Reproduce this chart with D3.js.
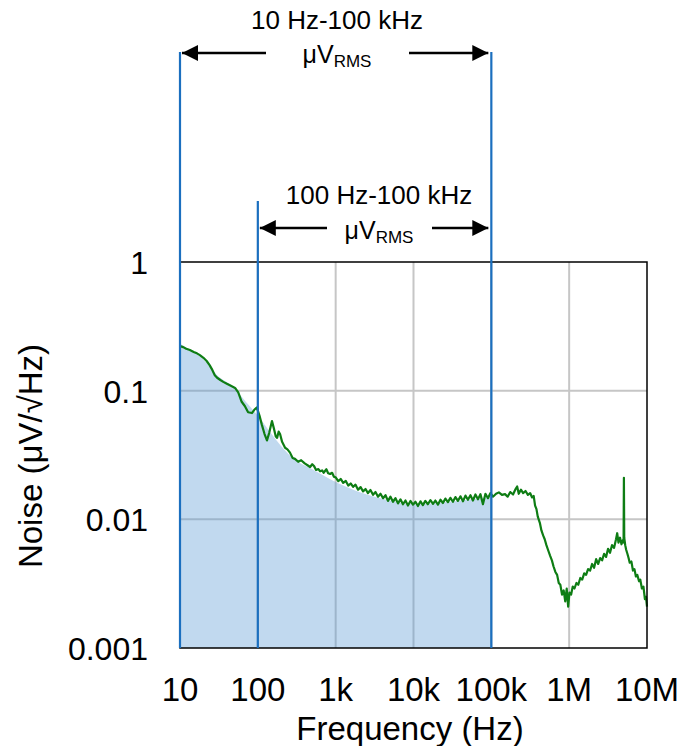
<!DOCTYPE html>
<html>
<head>
<meta charset="utf-8">
<script src="https://cdn.jsdelivr.net/npm/d3@7"></script>
<style>
  html, body { margin: 0; padding: 0; background: #fff; }
  svg { display: block; font-family: "Liberation Sans", Arial, sans-serif; }
</style>
</head>
<body>
<svg id="chart" width="683" height="746"></svg>
<script>
// ---------- data ----------
const xTickValues = [10, 100, 1e3, 1e4, 1e5, 1e6, 1e7];
const xTickLabels = ["10", "100", "1k", "10k", "100k", "1M", "10M"];
const yTickValues = [0.001, 0.01, 0.1, 1];
const yTickLabels = ["0.001", "0.01", "0.1", "1"];

const freq = [10, 11, 12, 13.4, 15, 16.5, 18, 20, 22, 24, 26, 28, 30, 33, 36, 40, 45, 51, 56, 62, 68, 75, 84, 90, 97,
  105, 113, 122, 131, 140, 152, 162, 170, 177, 185, 193, 205, 224, 240, 259, 280,
  300, 330, 360, 400, 440, 469, 500, 530, 560, 600, 631, 670, 700, 760, 800, 848, 900, 950,
  1000, 1080, 1160, 1250, 1350, 1450, 1560, 1680, 1800, 1940, 2090, 2250, 2420, 2600, 2800, 3020, 3250, 3500, 3770,
  4060, 4370, 4700, 5060, 5450, 5870, 6320, 6800, 7320, 7880, 8490, 9140, 9840,
  10600, 11400, 12300, 13200, 14200, 15300, 16500, 17800, 19100, 20600, 22200, 23900, 25700, 27700, 29800, 32100,
  34600, 37200, 40100, 43200, 46500, 50000, 53900, 58000, 62500, 67300, 72400, 78000, 84000, 90500, 97400,
  105000, 115000, 125000, 137000, 150000, 162000, 175000, 190000, 205000, 214600, 225000, 240000, 256000, 275000,
  295000, 315000, 334000, 350000, 365000, 380000, 395000, 420000, 440000, 463000, 485000, 510000, 540000, 570000,
  600000, 630000, 665000, 700000, 735000, 770000, 810000, 850000, 890000, 930000, 971000,
  1010000, 1060000, 1110000, 1170000, 1240000, 1310000, 1390000, 1470000, 1560000, 1650000, 1750000, 1860000,
  1970000, 2090000, 2220000, 2360000, 2500000, 2650000, 2810000, 2980000, 3160000, 3350000, 3550000, 3770000,
  4000000, 4140000, 4300000, 4500000, 4700000, 4900000, 5000000, 5050000, 5100000, 5250000, 5400000, 5600000,
  5800000, 6000000, 6300000, 6600000, 6900000, 7200000, 7500000, 7900000, 8200000, 8600000, 9000000, 9400000,
  9700000, 10000000];
const noise = [0.222, 0.218, 0.212, 0.207, 0.200, 0.195, 0.189, 0.180, 0.170, 0.158, 0.145, 0.132, 0.126, 0.121, 0.117,
  0.113, 0.109, 0.105, 0.097, 0.082, 0.076, 0.068, 0.067, 0.071, 0.074,
  0.064, 0.054, 0.046, 0.041, 0.047, 0.058, 0.050, 0.044, 0.043, 0.048, 0.046, 0.040, 0.036, 0.035, 0.033, 0.030,
  0.0295, 0.0280, 0.0288, 0.0272, 0.0262, 0.0255, 0.0268, 0.0258, 0.0242, 0.0246, 0.0236, 0.0240, 0.0230, 0.0245,
  0.0228, 0.0225, 0.0230, 0.0214,
  0.0212, 0.0198, 0.0206, 0.0192, 0.0199, 0.0183, 0.0190, 0.0179, 0.0186, 0.0170, 0.0178, 0.0165, 0.0172, 0.0160,
  0.0169, 0.0155, 0.0163, 0.0150, 0.0158,
  0.0146, 0.0154, 0.0139, 0.0150, 0.0137, 0.0146, 0.0133, 0.0143, 0.0131, 0.0140, 0.0128, 0.0139, 0.0130,
  0.0137, 0.0127, 0.0138, 0.0129, 0.0139, 0.0131, 0.0141, 0.0132, 0.0140, 0.0130, 0.0142, 0.0134, 0.0145, 0.0136,
  0.0147, 0.0137,
  0.0149, 0.0139, 0.0151, 0.0138, 0.0153, 0.0142, 0.0154, 0.0140, 0.0156, 0.0143, 0.0157, 0.0131, 0.0158, 0.0146,
  0.0160,
  0.0150, 0.0158, 0.0162, 0.0155, 0.0157, 0.0150, 0.0163, 0.0156, 0.0172, 0.0180, 0.0158, 0.0170, 0.0160, 0.0166,
  0.0155, 0.0160, 0.0148, 0.0152, 0.0128, 0.0120, 0.0105, 0.0094, 0.0082, 0.0075, 0.0070, 0.0063, 0.0057, 0.0052,
  0.0048, 0.0043, 0.0039, 0.0037, 0.0032, 0.0031, 0.0026, 0.0028, 0.0023, 0.0029, 0.0021,
  0.0027, 0.0026, 0.0030, 0.0029, 0.0032, 0.0031, 0.0035, 0.0034, 0.0038, 0.0037, 0.0041, 0.0040,
  0.0045, 0.0042, 0.0049, 0.0045, 0.0050, 0.0048, 0.0054, 0.0051, 0.0059, 0.0055, 0.0063, 0.0060,
  0.0070, 0.0078, 0.0066, 0.0072, 0.0064, 0.0069, 0.0066, 0.0210, 0.0072, 0.0063, 0.0058, 0.0054,
  0.0050, 0.0046, 0.0047, 0.0040, 0.0041, 0.0036, 0.0037, 0.0033, 0.0034, 0.0029, 0.0030, 0.0024,
  0.0025, 0.0021];

// integrated band (shaded) – smooth envelope of the noise density
const fillFreq = [10, 15, 20, 30, 50, 70, 100, 150, 200, 300, 500, 1000, 2000, 5000, 10000, 20000, 50000, 100000];
const fillNoise = [0.232, 0.200, 0.175, 0.132, 0.105, 0.082, 0.064, 0.046, 0.037, 0.029, 0.0245, 0.0195, 0.0163,
  0.0140, 0.0131, 0.0134, 0.0142, 0.0150];

// annotation bands
const bandStarts = [10, 100];
const bandEnd = 1e5;
const bandTitles = ["10 Hz-100 kHz", "100 Hz-100 kHz"];

// ---------- layout ----------
const svg = d3.select("#chart");
const x = d3.scaleLog().domain([10, 1e7]).range([180, 647]);
const y = d3.scaleLog().domain([0.001, 1]).range([648, 262]);

const green = "#0e7d14";
const blue = "#1b6fbf";

// grid
const grid = svg.append("g");
grid.selectAll("line.v").data(xTickValues.slice(1, -1)).join("line")
  .attr("x1", d => x(d)).attr("x2", d => x(d))
  .attr("y1", y(1)).attr("y2", y(0.001))
  .attr("stroke", "#c6c6c6").attr("stroke-width", 2);
grid.selectAll("line.h").data(yTickValues.slice(1, -1)).join("line")
  .attr("x1", x(10)).attr("x2", x(1e7))
  .attr("y1", d => y(d)).attr("y2", d => y(d))
  .attr("stroke", "#c6c6c6").attr("stroke-width", 2);

// shaded area
const fillData = fillFreq.map((f, i) => [f, fillNoise[i]]);
svg.append("path")
  .datum(fillData)
  .attr("d", d3.area().x(d => x(d[0])).y0(y(0.001)).y1(d => y(d[1])).curve(d3.curveMonotoneX))
  .attr("fill", "rgb(91,155,213)")
  .attr("fill-opacity", 0.38);

// noise line
const lineData = freq.map((f, i) => [f, noise[i]]);
svg.append("path")
  .datum(lineData)
  .attr("d", d3.line().x(d => x(d[0])).y(d => y(d[1])))
  .attr("fill", "none")
  .attr("stroke", green)
  .attr("stroke-width", 2.2)
  .attr("stroke-linejoin", "round");

// plot frame
svg.append("rect")
  .attr("x", x(10)).attr("y", y(1))
  .attr("width", x(1e7) - x(10)).attr("height", y(0.001) - y(1))
  .attr("fill", "none").attr("stroke", "#000").attr("stroke-width", 1.5);

// band markers
const bandTop = [52, 201];
svg.append("line")
  .attr("x1", x(bandStarts[0])).attr("x2", x(bandStarts[0]))
  .attr("y1", bandTop[0]).attr("y2", y(0.001))
  .attr("stroke", blue).attr("stroke-width", 2.2);
svg.append("line")
  .attr("x1", x(bandStarts[1])).attr("x2", x(bandStarts[1]))
  .attr("y1", bandTop[1]).attr("y2", y(0.001))
  .attr("stroke", blue).attr("stroke-width", 2.2);
svg.append("line")
  .attr("x1", x(bandEnd)).attr("x2", x(bandEnd))
  .attr("y1", bandTop[0]).attr("y2", y(0.001))
  .attr("stroke", blue).attr("stroke-width", 2.2);

// arrows
const defs = svg.append("defs");
defs.append("marker").attr("id", "arrow")
  .attr("viewBox", "0 0 10 10").attr("refX", 10).attr("refY", 5)
  .attr("markerUnits", "userSpaceOnUse")
  .attr("markerWidth", 18).attr("markerHeight", 16)
  .attr("orient", "auto")
  .append("path").attr("d", "M0,0 L10,5 L0,10 Z").attr("fill", "#000");

function arrow(x1, x2, yy) {
  svg.append("line")
    .attr("x1", x1).attr("x2", x2).attr("y1", yy).attr("y2", yy)
    .attr("stroke", "#000").attr("stroke-width", 2.5)
    .attr("marker-end", "url(#arrow)");
}
// row 1
arrow(266, x(bandStarts[0]) + 2, 53);
arrow(409, x(bandEnd) - 3, 53);
// row 2
arrow(327, x(bandStarts[1]) + 2, 228);
arrow(432, x(bandEnd) - 3, 228);

// band labels
function bandLabel(cx, y1, y2, title) {
  svg.append("text").attr("x", cx).attr("y", y1)
    .attr("text-anchor", "middle").attr("font-size", 26).attr("fill", "#000")
    .text(title);
  const t = svg.append("text").attr("x", cx).attr("y", y2)
    .attr("text-anchor", "middle").attr("font-size", 25).attr("fill", "#000");
  t.append("tspan").text("μV");
  t.append("tspan").attr("font-size", 17).attr("dy", 4).text("RMS");
}
bandLabel(337, 29, 63, bandTitles[0]);
bandLabel(379, 204, 239, bandTitles[1]);

// axes tick labels
svg.append("g").selectAll("text").data(xTickValues).join("text")
  .attr("x", d => x(d)).attr("y", 701)
  .attr("text-anchor", "middle").attr("font-size", 33).attr("fill", "#000")
  .text((d, i) => xTickLabels[i]);
svg.append("g").selectAll("text").data(yTickValues).join("text")
  .attr("x", 148).attr("y", d => y(d) + 12)
  .attr("text-anchor", "end").attr("font-size", 32).attr("fill", "#000")
  .text((d, i) => yTickLabels[i]);

// axis titles
svg.append("text").attr("x", 410).attr("y", 740)
  .attr("text-anchor", "middle").attr("font-size", 33).attr("fill", "#000")
  .text("Frequency (Hz)");
svg.append("text")
  .attr("transform", "translate(42,456) rotate(-90)")
  .attr("text-anchor", "middle").attr("font-size", 33).attr("fill", "#000")
  .text("Noise (μV/√Hz)");
</script>
</body>
</html>
